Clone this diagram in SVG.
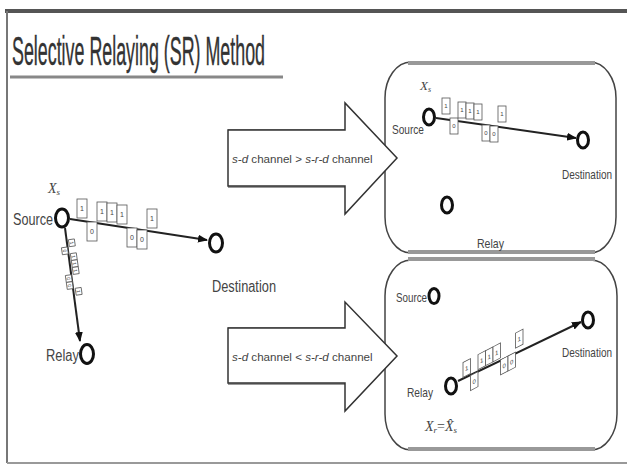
<svg xmlns="http://www.w3.org/2000/svg" width="627" height="465" viewBox="0 0 627 465">
<defs>
<marker id="ah" markerWidth="10" markerHeight="8" refX="9" refY="4" orient="auto" markerUnits="userSpaceOnUse">
<path d="M0,0 L10,4 L0,8 z" fill="#111"/>
</marker>
<style>
.lbl{font-family:"Liberation Sans",Arial,sans-serif;fill:#444;}
.var{font-family:"Liberation Serif","DejaVu Serif",serif;font-style:italic;fill:#444;}
.node{fill:#fff;stroke:#111;stroke-width:3;}
.bit{fill:#fff;stroke:#555;stroke-width:0.8;}
.bt{font-family:"Liberation Sans",Arial,sans-serif;fill:#444;text-anchor:middle;}
.conn{stroke:#222;stroke-width:2;fill:none;marker-end:url(#ah);}
.big{fill:#fff;stroke:#333;stroke-width:1.5;stroke-linejoin:miter;}
.band{stroke:#999;stroke-width:4;fill:none;}
.panel{fill:#fff;stroke:#444;stroke-width:1.5;}
</style>
</defs>
<rect width="627" height="465" fill="#fff"/>
<g id="frame">
<line x1="5" y1="11" x2="627" y2="11" stroke="#555" stroke-width="4"/>
<line x1="7" y1="11" x2="7" y2="463" stroke="#777" stroke-width="2"/>
<line x1="7" y1="463" x2="627" y2="463" stroke="#999" stroke-width="2"/>
</g>
<g id="title">
<text x="12" y="65" font-family="Liberation Sans, Arial, sans-serif" font-size="40" fill="#333" stroke="#333" stroke-width="0.4" textLength="253" lengthAdjust="spacingAndGlyphs">Selective Relaying (SR) Method</text>
<line x1="10" y1="77" x2="283" y2="77" stroke="#888" stroke-width="3"/>
</g>
<g id="panel-top">
<rect class="panel" x="385" y="62" width="231" height="191" rx="26" ry="36"/>
<line class="band" x1="408" y1="63" x2="595" y2="63"/>
<line class="band" x1="408" y1="252" x2="595" y2="252"/>
</g>
<g id="panel-bottom">
<rect class="panel" x="385" y="260" width="232" height="190" rx="26" ry="36"/>
<line class="band" x1="408" y1="259" x2="595" y2="259"/>
<line class="band" x1="408" y1="449" x2="595" y2="449"/>
</g>
<g id="arrow-top">
<line class="band" x1="228" y1="131" x2="345" y2="131"/>
<line class="band" x1="228" y1="186" x2="345" y2="186"/>
<polygon class="big" points="228,130 345,130 345,103 397,158 345,214 345,186 228,186"/>
<text class="lbl" x="232" y="163" font-size="11.6"><tspan font-style="italic">s-d</tspan> channel &gt; <tspan font-style="italic">s-r-d</tspan> channel</text>
</g>
<g id="arrow-bottom">
<line class="band" x1="228" y1="329" x2="345" y2="329"/>
<line class="band" x1="228" y1="383" x2="345" y2="383"/>
<polygon class="big" points="228,328 345,328 345,302 397,356 345,411 345,383 228,383"/>
<text class="lbl" x="232" y="361" font-size="11.6"><tspan font-style="italic">s-d</tspan> channel &lt; <tspan font-style="italic">s-r-d</tspan> channel</text>
</g>
<g id="connectors">
<line class="conn" x1="70" y1="219" x2="207" y2="240"/>
<line class="conn" x1="65" y1="228" x2="80" y2="341"/>
<line class="conn" x1="436" y1="118" x2="576" y2="138"/>
<line class="conn" x1="458" y1="381" x2="581" y2="322"/>
</g>
<g id="bits-left-sd">
<rect class="bit" x="77" y="199" width="10" height="19"/><text class="bt" x="82" y="211" font-size="7">1</text>
<rect class="bit" x="87" y="222" width="10" height="19"/><text class="bt" x="92" y="234" font-size="7">0</text>
<rect class="bit" x="97" y="202" width="10" height="19"/><text class="bt" x="102" y="214" font-size="7">1</text>
<rect class="bit" x="107" y="203" width="10" height="19"/><text class="bt" x="112" y="215" font-size="7">1</text>
<rect class="bit" x="117" y="205" width="10" height="19"/><text class="bt" x="122" y="217" font-size="7">1</text>
<rect class="bit" x="127" y="228" width="10" height="19"/><text class="bt" x="132" y="240" font-size="7">0</text>
<rect class="bit" x="137" y="230" width="10" height="19"/><text class="bt" x="142" y="242" font-size="7">0</text>
<rect class="bit" x="147" y="209" width="10" height="19"/><text class="bt" x="152" y="221" font-size="7">1</text>
</g>
<g id="bits-left-sr" transform="translate(66,230) rotate(82)">
<rect class="bit" x="10" y="-7" width="7" height="6"/><text class="bt" x="13.5" y="-2" font-size="5">1</text>
<rect class="bit" x="17" y="1" width="7" height="6"/><text class="bt" x="20.5" y="6" font-size="5">0</text>
<rect class="bit" x="24" y="-7" width="7" height="6"/><text class="bt" x="27.5" y="-2" font-size="5">1</text>
<rect class="bit" x="31" y="-7" width="7" height="6"/><text class="bt" x="34.5" y="-2" font-size="5">1</text>
<rect class="bit" x="38" y="-7" width="7" height="6"/><text class="bt" x="41.5" y="-2" font-size="5">1</text>
<rect class="bit" x="45" y="1" width="7" height="6"/><text class="bt" x="48.5" y="6" font-size="5">0</text>
<rect class="bit" x="52" y="1" width="7" height="6"/><text class="bt" x="55.5" y="6" font-size="5">0</text>
<rect class="bit" x="59" y="-7" width="7" height="6"/><text class="bt" x="62.5" y="-2" font-size="5">1</text>
</g>
<g id="bits-top">
<rect class="bit" x="442" y="98" width="8" height="16"/><text class="bt" x="446" y="108" font-size="6">1</text>
<rect class="bit" x="450" y="118" width="8" height="16"/><text class="bt" x="454" y="128" font-size="6">0</text>
<rect class="bit" x="458" y="102" width="8" height="16"/><text class="bt" x="462" y="112" font-size="6">1</text>
<rect class="bit" x="466" y="103" width="8" height="16"/><text class="bt" x="470" y="113" font-size="6">1</text>
<rect class="bit" x="474" y="104" width="8" height="16"/><text class="bt" x="478" y="114" font-size="6">1</text>
<rect class="bit" x="482" y="125" width="8" height="16"/><text class="bt" x="486" y="135" font-size="6">0</text>
<rect class="bit" x="490" y="126" width="8" height="16"/><text class="bt" x="494" y="136" font-size="6">0</text>
<rect class="bit" x="498" y="106" width="8" height="16"/><text class="bt" x="502" y="116" font-size="6">1</text>
</g>
<g id="bits-bottom" transform="translate(460,381) skewY(-27.5)">
<rect class="bit" x="3" y="-17" width="7.5" height="15"/><text class="bt" x="6.75" y="-7" font-size="6">1</text>
<rect class="bit" x="10.5" y="0" width="7.5" height="15"/><text class="bt" x="14.25" y="10" font-size="6">0</text>
<rect class="bit" x="18" y="-17" width="7.5" height="15"/><text class="bt" x="21.75" y="-7" font-size="6">1</text>
<rect class="bit" x="25.5" y="-17" width="7.5" height="15"/><text class="bt" x="29.25" y="-7" font-size="6">1</text>
<rect class="bit" x="33" y="-17" width="7.5" height="15"/><text class="bt" x="36.75" y="-7" font-size="6">1</text>
<rect class="bit" x="40.5" y="0" width="7.5" height="15"/><text class="bt" x="44.25" y="10" font-size="6">0</text>
<rect class="bit" x="48" y="0" width="7.5" height="15"/><text class="bt" x="51.75" y="10" font-size="6">0</text>
<rect class="bit" x="55.5" y="-19" width="7.5" height="15"/><text class="bt" x="59.25" y="-9" font-size="6">1</text>
</g>
<g id="left-source">
<ellipse class="node" cx="62" cy="218" rx="6.5" ry="9"/>
<text class="lbl" x="13" y="225" font-size="16" textLength="40" lengthAdjust="spacingAndGlyphs">Source</text>
<text class="var" x="48" y="193" font-size="14">X<tspan font-size="9" dy="2">s</tspan></text>
</g>
<g id="left-destination">
<ellipse class="node" cx="216" cy="243" rx="6.5" ry="9"/>
<text class="lbl" x="212" y="292" font-size="16" textLength="64" lengthAdjust="spacingAndGlyphs">Destination</text>
</g>
<g id="left-relay">
<ellipse class="node" cx="87" cy="354" rx="6.5" ry="9.5"/>
<text class="lbl" x="46" y="361" font-size="16" textLength="33" lengthAdjust="spacingAndGlyphs">Relay</text>
</g>
<g id="top-source">
<ellipse class="node" cx="429" cy="117" rx="5.5" ry="8"/>
<text class="lbl" x="392" y="134" font-size="13" textLength="32" lengthAdjust="spacingAndGlyphs">Source</text>
<text class="var" x="420" y="90" font-size="13">X<tspan font-size="8" dy="2">s</tspan></text>
</g>
<g id="top-destination">
<ellipse class="node" cx="583" cy="140" rx="5.5" ry="8"/>
<text class="lbl" x="562" y="179" font-size="13" textLength="50" lengthAdjust="spacingAndGlyphs">Destination</text>
</g>
<g id="top-relay">
<ellipse class="node" cx="447" cy="205" rx="5.5" ry="8"/>
<text class="lbl" x="477" y="248" font-size="13" textLength="27" lengthAdjust="spacingAndGlyphs">Relay</text>
</g>
<g id="bottom-source">
<ellipse class="node" cx="434" cy="296" rx="5" ry="7.5"/>
<text class="lbl" x="396" y="302" font-size="13" textLength="31" lengthAdjust="spacingAndGlyphs">Source</text>
</g>
<g id="bottom-destination">
<ellipse class="node" cx="588" cy="320" rx="5.5" ry="8"/>
<text class="lbl" x="562" y="357" font-size="13" textLength="50" lengthAdjust="spacingAndGlyphs">Destination</text>
</g>
<g id="bottom-relay">
<ellipse class="node" cx="451" cy="386" rx="5.5" ry="8"/>
<text class="lbl" x="407" y="397" font-size="13" textLength="26" lengthAdjust="spacingAndGlyphs">Relay</text>
<text class="var" x="425" y="431" font-size="14">X<tspan font-size="9" dy="2">r</tspan><tspan dy="-2" font-style="normal">=</tspan>X̂<tspan font-size="9" dy="2">s</tspan></text>
</g>
</svg>
